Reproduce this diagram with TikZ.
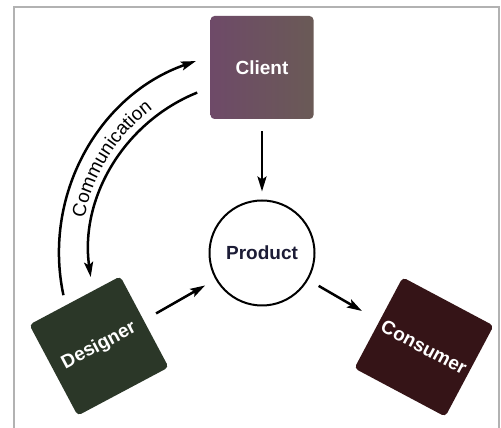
\documentclass[tikz,border=0pt]{standalone}
\usepackage{fontspec}
\setmainfont{Liberation Sans}
\usetikzlibrary{arrows.meta,decorations.text}
\definecolor{clientL}{HTML}{6E4A68}
\definecolor{clientR}{HTML}{6A5A56}
\definecolor{designerC}{HTML}{2B3728}
\definecolor{consumerL}{HTML}{351417}
\definecolor{consumerM}{HTML}{2B2919}
\definecolor{productT}{HTML}{1C1C36}
\begin{document}
\begin{tikzpicture}[x=1pt,y=1pt,
  arr/.style={line width=2.5pt, -{Stealth[length=15pt,width=9pt,inset=3pt]}},
  box/.style={minimum width=103pt, minimum height=103pt, rounded corners=4pt, inner sep=0pt,
    text=white, font=\fontsize{19}{21}\selectfont\bfseries},
]
\useasboundingbox (0,0) rectangle (501,428);
\fill[white] (0,0) rectangle (501,428);
\draw[black!30, line width=1.5pt] (14,-5) rectangle (499,421);

\node[box, left color=clientL, right color=clientR] (client) at (262,360.5) {Client};
\node[box, rotate=28, fill=designerC] (designer) at (99,82) {Designer};
\node[box, rotate=-28, left color=consumerL, middle color=consumerM, right color=consumerL] (consumer) at (424,81) {Consumer};
\node[circle, draw, line width=2pt, minimum size=105pt, inner sep=0pt, fill=white,
  text=productT, font=\fontsize{19}{21}\selectfont\bfseries] (product) at (262,175) {Product};

\draw[arr, shorten <=12pt, shorten >=8pt] (client) -- (product);
\draw[arr, shorten <=14pt, shorten >=12pt] (designer) -- (product);
\draw[arr, shorten <=12pt, shorten >=20pt] (product) -- (consumer);

\draw[arr] ([shift={(192:203)}]product.center) arc[start angle=192, end angle=109, radius=203];
\draw[arr] ([shift={(112:173)}]product.center) arc[start angle=112, end angle=188, radius=173];
\path[decorate, decoration={text along path, text align=center,
  text={|\fontsize{19}{21}\selectfont|Communication}}]
  ([shift={(172:181)}]product.center) arc[start angle=172, end angle=124, radius=181];
\end{tikzpicture}
\end{document}
